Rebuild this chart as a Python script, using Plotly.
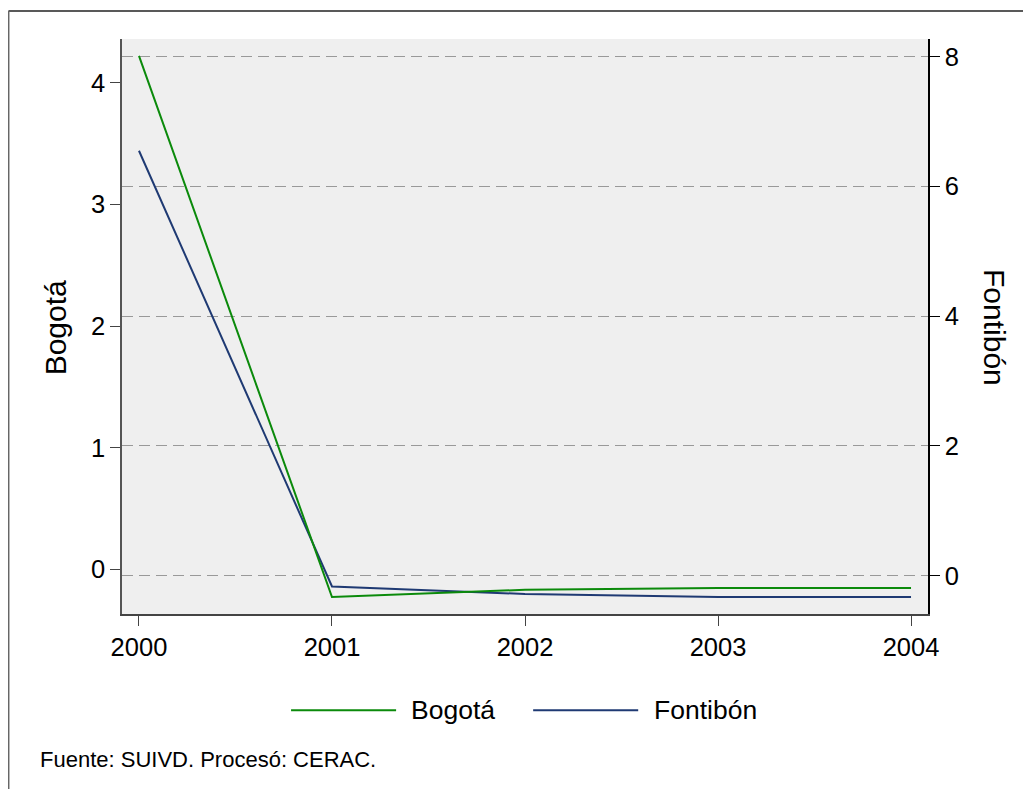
import plotly.graph_objects as go

years = [2000, 2001, 2002, 2003, 2004]
bogota = [4.22, -0.227, -0.167, -0.153, -0.153]
fontibon = [6.55, -0.165, -0.282, -0.328, -0.328]

left_ticks = [0, 1, 2, 3, 4]
right_ticks = [0, 2, 4, 6, 8]

FONT = "Liberation Sans, Arial, sans-serif"
GREEN = "#0b8a0b"
NAVY = "#1f3a73"

# page has an 8px body margin; work in page coordinates and convert
O = 8
W, H = 1031 - 2 * O, 797 - 2 * O
PL, PR, PT, PB = 122, 927.7, 39, 614.3   # plot area in page pixels
L, T = PL - O, PT - O
R = W - (PR - O)
B = H - (PB - O)
pw, ph = PR - PL, PB - PT

def px(x):
    return (x - PL) / pw

def py(y):
    return (PB - y) / ph

fig = go.Figure()
fig.add_trace(go.Scatter(x=years, y=fontibon, name="Fontibón", mode="lines",
                         line=dict(color=NAVY, width=2), yaxis="y"))
fig.add_trace(go.Scatter(x=years, y=bogota, name="Bogotá", mode="lines",
                         line=dict(color=GREEN, width=2), yaxis="y2"))

fig.update_layout(
    width=W, height=H,
    margin=dict(l=L, r=R, t=T, b=B),
    paper_bgcolor="white",
    plot_bgcolor="#efefef",
    showlegend=False,
    font=dict(family=FONT, color="black"),
    xaxis=dict(range=[1999.912, 2004.088], tickvals=years, ticks="outside",
               ticklen=10, tickcolor="#444", tickwidth=1.2, showline=True,
               linecolor="#444", linewidth=1.5, showgrid=False, zeroline=False,
               tickfont=dict(size=25.5)),
    yaxis=dict(range=[-0.590, 8.273], tickvals=right_ticks, side="right",
               ticks="outside", ticklen=10, tickcolor="black", tickwidth=1.2,
               showline=True, linecolor="black", linewidth=1.5,
               showgrid=True, gridcolor="#999999", gridwidth=1, griddash="11px,6px",
               zeroline=False, tickfont=dict(size=25.5)),
    yaxis2=dict(range=[-0.366, 4.359], tickvals=left_ticks, side="left",
                overlaying="y", ticks="outside", ticklen=10, tickcolor="#444",
                tickwidth=1.2, showline=True, linecolor="#555", linewidth=1.5,
                showgrid=False, zeroline=False, tickfont=dict(size=25.5)),
)

shapes = [
    # outer frame (left and top)
    dict(type="line", xref="paper", yref="paper", x0=px(O + 0.5), x1=px(1031), y0=py(11), y1=py(11),
         line=dict(color="#222", width=1.5)),
    dict(type="line", xref="paper", yref="paper", x0=px(O + 0.75), x1=px(O + 0.75), y0=py(11), y1=py(797),
         line=dict(color="#666", width=1.5)),
    # legend keys
    dict(type="line", xref="paper", yref="paper", x0=px(291), x1=px(396), y0=py(710.5), y1=py(710.5),
         line=dict(color=GREEN, width=2)),
    dict(type="line", xref="paper", yref="paper", x0=px(533), x1=px(638), y0=py(710.5), y1=py(710.5),
         line=dict(color=NAVY, width=2)),
]
fig.update_layout(shapes=shapes)

ann = [
    dict(text="Bogotá", x=px(409), y=py(710.5), xanchor="left", yanchor="middle",
         font=dict(size=26.5)),
    dict(text="Fontibón", x=px(652), y=py(710.5), xanchor="left", yanchor="middle",
         font=dict(size=26.5)),
    dict(text="Fuente: SUIVD. Procesó: CERAC.", x=px(38), y=py(760), xanchor="left",
         yanchor="middle", font=dict(size=22)),
    dict(text="Bogotá", x=px(55), y=py(327.5), xanchor="center", yanchor="middle",
         textangle=-90, font=dict(size=30)),
    dict(text="Fontibón", x=px(994), y=py(327.5), xanchor="center", yanchor="middle",
         textangle=90, font=dict(size=30)),
]
for a in ann:
    a.update(xref="paper", yref="paper", showarrow=False)
fig.update_layout(annotations=ann)

fig.write_html("out.html")
